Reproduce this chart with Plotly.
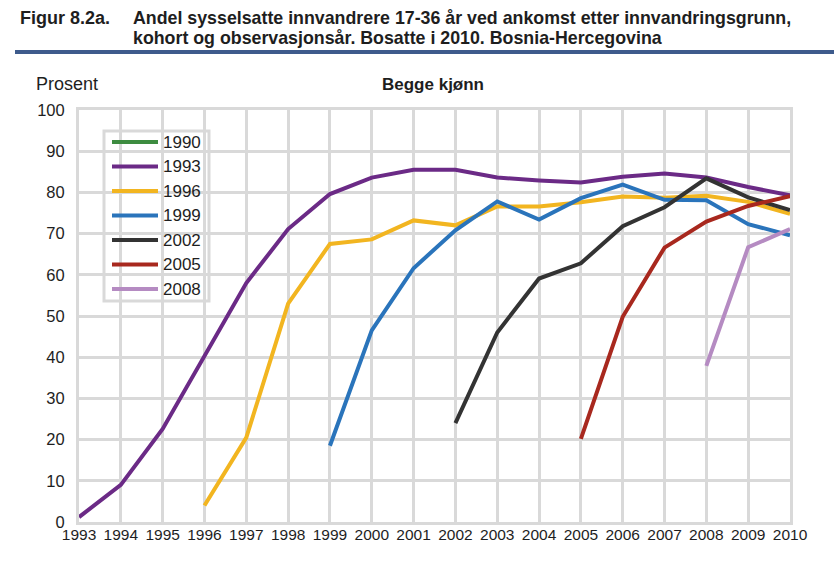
import plotly.graph_objects as go

years = list(range(1993, 2011))

cohorts = ["1990", "1993", "1996", "1999", "2002", "2005", "2008"]

s1990 = [None] * 18
s1993 = [1.2, 9.0, 22.6, 40.5, 58.0, 71.1, 79.6, 83.6, 85.5, 85.5, 83.6, 82.9, 82.4, 83.8, 84.6, 83.6, 81.3, 79.3]
s1996 = [None, None, None, 4.0, 20.5, 53.0, 67.5, 68.6, 73.2, 72.0, 76.6, 76.6, 77.6, 79.0, 78.7, 79.2, 77.7, 74.8]
s1999 = [None] * 6 + [18.5, 46.5, 61.6, 70.8, 77.8, 73.4, 78.6, 81.9, 78.2, 78.1, 72.3, 69.6]
s2002 = [None] * 9 + [24.0, 46.0, 59.1, 62.8, 71.8, 76.4, 83.4, 78.8, 75.7]
s2005 = [None] * 12 + [20.2, 49.8, 66.6, 72.9, 76.7, 79.1]
s2008 = [None] * 15 + [37.9, 66.7, 71.1]

series = [s1990, s1993, s1996, s1999, s2002, s2005, s2008]
colors = ["#3d8c40", "#6b2a86", "#f2b520", "#2a74bb", "#333333", "#a8281e", "#b58bc2"]

title_label = "Figur 8.2a."
title_line1 = "Andel sysselsatte innvandrere 17-36 år ved ankomst etter innvandringsgrunn,"
title_line2 = "kohort og observasjonsår. Bosatte i 2010. Bosnia-Hercegovina"
subtitle = "Begge kjønn"
y_title = "Prosent"

FONT = "Liberation Sans, Arial, sans-serif"
TXT = "#1e1e1e"
GRID = "#d9d9d9"

# plot area in pixels: left 79, right 790, top 110, bottom 522
PW, PH = 711, 412


def px(x):
    return (x - 79) / PW


def py(y):
    return (522 - y) / PH


fig = go.Figure()
for name, vals, col in zip(cohorts, series, colors):
    fig.add_trace(go.Scatter(
        x=years, y=vals, name=name, mode="lines",
        line=dict(color=col, width=4), connectgaps=False, showlegend=False,
    ))

annotations = [
    dict(text="<b>" + title_label + "</b>", xref="paper", yref="paper",
         x=px(18), y=py(18), xanchor="left", yanchor="middle",
         showarrow=False, font=dict(size=18, family=FONT, color=TXT), align="left"),
    dict(text="<b>" + title_line1 + "</b>", xref="paper", yref="paper",
         x=px(131), y=py(18), xanchor="left", yanchor="middle",
         showarrow=False, font=dict(size=17.8, family=FONT, color=TXT), align="left"),
    dict(text="<b>" + title_line2 + "</b>", xref="paper", yref="paper",
         x=px(131), y=py(38), xanchor="left", yanchor="middle",
         showarrow=False, font=dict(size=17.8, family=FONT, color=TXT), align="left"),
    dict(text="<b>" + subtitle + "</b>", xref="paper", yref="paper",
         x=px(433), y=py(84), xanchor="center", yanchor="middle",
         showarrow=False, font=dict(size=17, family=FONT, color=TXT)),
    dict(text=y_title, xref="paper", yref="paper",
         x=px(34), y=py(84), xanchor="left", yanchor="middle",
         showarrow=False, font=dict(size=18, family=FONT, color=TXT)),
]

shapes = [
    dict(type="line", xref="paper", yref="paper",
         x0=px(15), x1=px(834), y0=py(52), y1=py(52),
         line=dict(color="#3e5b8c", width=4)),
    # legend box
    dict(type="rect", xref="paper", yref="paper", layer="between",
         x0=px(104), x1=px(209), y0=py(131), y1=py(301),
         fillcolor="white", line=dict(color=GRID, width=3)),
]

# legend entries
for i, (name, col) in enumerate(zip(cohorts, colors)):
    yy = 142 + 24.5 * i
    shapes.append(dict(type="line", xref="paper", yref="paper", layer="above",
                       x0=px(112), x1=px(158), y0=py(yy), y1=py(yy),
                       line=dict(color=col, width=4)))
    annotations.append(dict(text=name, xref="paper", yref="paper",
                            x=px(161), y=py(yy), xanchor="left", yanchor="middle",
                            showarrow=False, font=dict(size=17, family=FONT, color=TXT)))

fig.update_layout(
    width=834, height=564,
    margin=dict(l=79, r=44, t=110, b=42, autoexpand=False),
    paper_bgcolor="white", plot_bgcolor="white",
    font=dict(family=FONT, color=TXT, size=16),
    showlegend=False,
    xaxis=dict(
        range=[1993, 2010], tickmode="array", tickvals=years,
        ticktext=[str(y) for y in years], automargin=False,
        showgrid=True, gridcolor=GRID, gridwidth=3,
        showline=True, linecolor=GRID, linewidth=3, mirror=True,
        zeroline=False, ticks="", ticklabelstandoff=-4,
        tickfont=dict(size=15.5, family=FONT, color=TXT),
        fixedrange=True,
    ),
    yaxis=dict(
        range=[0, 100], tickvals=list(range(0, 101, 10)), automargin=False,
        showgrid=True, gridcolor=GRID, gridwidth=3,
        showline=True, linecolor=GRID, linewidth=3, mirror=True,
        zeroline=False, ticks="", ticklabelstandoff=8,
        tickfont=dict(size=16.5, family=FONT, color=TXT),
        fixedrange=True,
    ),
    annotations=annotations,
    shapes=shapes,
)

fig.write_html("out.html", config={"displayModeBar": False, "staticPlot": True})

with open("out.html", "r", encoding="utf-8") as f:
    html = f.read()
html = html.replace("<head>", "<head><style>html,body{margin:0;padding:0;}</style>", 1)
with open("out.html", "w", encoding="utf-8") as f:
    f.write(html)
